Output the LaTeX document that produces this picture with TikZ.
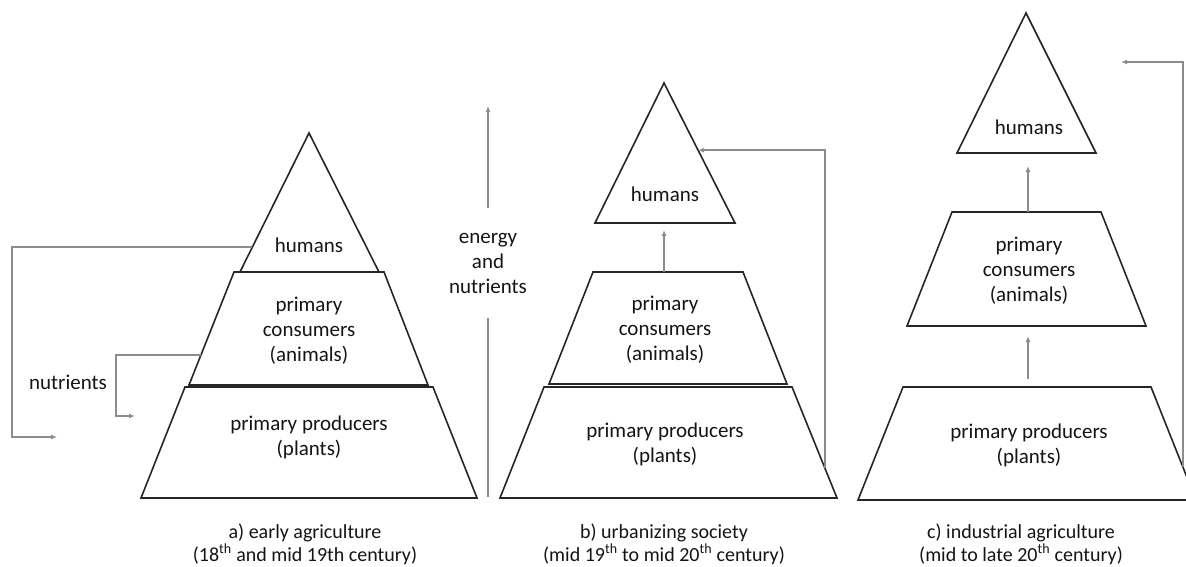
\documentclass[tikz,border=0pt]{standalone}
\usepackage{fontspec}
\setmainfont{Carlito}
\usetikzlibrary{arrows.meta,calc}
\begin{document}
\begin{tikzpicture}[x=1pt,y=-1pt,
  layer/.style={draw=black!85, line width=1.6pt, line join=miter},
  flow/.style={draw=black!45, line width=1.5pt, -{Latex[length=6pt,width=5pt]}},
  plain/.style={draw=black!45, line width=1.5pt},
  lbl/.style={font=\fontsize{21}{25}\selectfont, align=center, text=black!92, inner sep=0pt},
  captxt/.style={font=\fontsize{20}{23}\selectfont, align=center, text=black!92, inner sep=0pt}]
\useasboundingbox (0,0) rectangle (1186,567);
\begin{scope}
\clip (0,0) rectangle (1186,567);
% ---------- panel a ----------
\coordinate (aT) at (309,133);
\coordinate (aTL) at (240,272);
\coordinate (aTR) at (379,272);
\draw[layer] (aT) -- (aTL) -- (aTR) -- cycle;
\coordinate (aCL) at (234,272);
\coordinate (aCR) at (384,272);
\coordinate (aCBR) at (428,385);
\coordinate (aCBL) at (189,385);
\draw[layer] (aCL) -- (aCR) -- (aCBR) -- (aCBL) -- cycle;
\draw[layer] (185,387) -- (433,387) -- (477,498) -- (141,498) -- cycle;
\node[lbl] (aH) at (309,245) {humans};
\node[lbl] (aC) at (309,331) {primary\\consumers\\(animals)};
\node[lbl] (aP) at (309,437) {primary producers\\(plants)};
% feedback a
\coordinate (aS1) at ($(aT)!0.82!(aTL)$);
\coordinate (aK1) at (12,437);
\coordinate (aE1) at (57,437);
\draw[flow] (aS1) -| (aK1) -- (aE1);
\coordinate (aS2) at ($(aCL)!0.735!(aCBL)$);
\coordinate (aK2) at (116,416);
\coordinate (aE2) at (135,416);
\draw[flow] (aS2) -| (aK2) -- (aE2);
\node[lbl] (nut) at (68,382) {nutrients};
% ---------- energy arrow ----------
\node[lbl] (en) at (488,263) {energy\\and\\nutrients};
\coordinate (enB) at (488,497);
\coordinate (enT) at (488,106);
\draw[plain] (enB) -- (488,318);
\draw[flow] (488,208) -- (enT);
% ---------- panel b ----------
\coordinate (bT) at (664,83);
\coordinate (bTL) at (595,223);
\coordinate (bTR) at (735,223);
\draw[layer] (bT) -- (bTL) -- (bTR) -- cycle;
\draw[layer] (593,272) -- (743,272) -- (787,384) -- (549,384) -- cycle;
\coordinate (bPR) at (792,387);
\coordinate (bPBR) at (837,498);
\draw[layer] (544,387) -- (bPR) -- (bPBR) -- (500,498) -- cycle;
\node[lbl] (bH) at (665,194) {humans};
\node[lbl] (bC) at (665,330) {primary\\consumers\\(animals)};
\node[lbl] (bP) at (665,444) {primary producers\\(plants)};
\coordinate (bU1) at (664,272);
\coordinate (bU2) at (664,230);
\draw[flow] (bU1) -- (bU2);
\coordinate (bS) at ($(bPR)!0.73!(bPBR)$);
\coordinate (bE) at ($(bT)!0.48!(bTR)$);
\draw[flow] (bS) |- (bE);
% ---------- panel c ----------
\coordinate (cT) at (1026,13);
\draw[layer] (cT) -- (957,153) -- (1096,153) -- cycle;
\draw[layer] (952,212) -- (1101,212) -- (1146,326) -- (907,326) -- cycle;
\coordinate (cPR) at (1151,387);
\coordinate (cPBR) at (1196,500);
\draw[layer] (903,387) -- (cPR) -- (cPBR) -- (858,500) -- cycle;
\node[lbl] (cH) at (1029,127) {humans};
\node[lbl] (cC) at (1029,271) {primary\\consumers\\(animals)};
\node[lbl] (cP) at (1029,445) {primary producers\\(plants)};
\coordinate (cU1) at (1028,212);
\coordinate (cU2) at (1028,166);
\draw[flow] (cU1) -- (cU2);
\coordinate (cU3) at (1028,379);
\coordinate (cU4) at (1028,336);
\draw[flow] (cU3) -- (cU4);
\coordinate (cS) at ($(cPR)!0.71!(cPBR)$);
\coordinate (cE) at (1121,62);
\draw[flow] (cS) |- (cE);
\end{scope}
% ---------- captions ----------
\node[captxt] (capA) at (305,544) {a) early agriculture\\(18\textsuperscript{th} and mid 19th century)};
\node[captxt] (capB) at (664,544) {b) urbanizing society\\(mid 19\textsuperscript{th} to mid 20\textsuperscript{th} century)};
\node[captxt] (capC) at (1021,544) {c) industrial agriculture\\(mid to late 20\textsuperscript{th} century)};
\end{tikzpicture}
\end{document}
